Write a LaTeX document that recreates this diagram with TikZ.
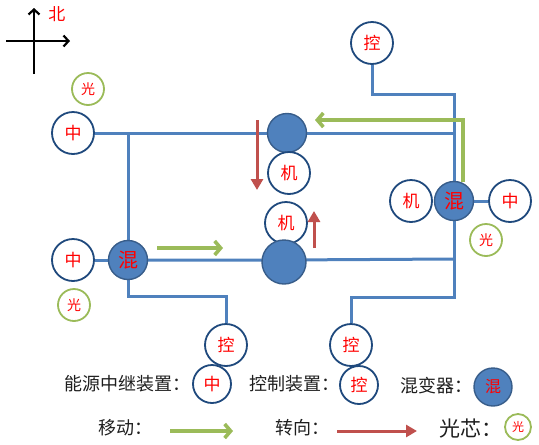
\documentclass[tikz,border=0pt]{standalone}
\usepackage{fontspec}
\newfontfamily\cjk{Noto Sans CJK SC}
\usetikzlibrary{arrows.meta,backgrounds}
\definecolor{lineblue}{RGB}{79,129,189}
\definecolor{ringblue}{RGB}{31,73,125}
\definecolor{mixedge}{RGB}{56,93,138}
\definecolor{cgreen}{RGB}{155,187,89}
\definecolor{cred}{RGB}{192,80,77}
\definecolor{tred}{RGB}{255,0,0}
\definecolor{tgray}{RGB}{30,30,30}
\tikzset{
  dev/.style={circle, draw=ringblue, line width=1.8pt, fill=white, minimum size=42pt, inner sep=0pt, text=tred, font=\cjk\fontsize{17}{17}\selectfont},
  mixer/.style={circle, draw=mixedge, line width=1.4pt, fill=lineblue, minimum size=39pt, inner sep=0pt, text=tred, font=\cjk\fontsize{20}{20}\selectfont},
  core/.style={circle, draw=cgreen, line width=1.8pt, fill=white, minimum size=32pt, inner sep=0pt, text=tred, font=\cjk\fontsize{14}{14}\selectfont},
  wire/.style={draw=lineblue, line width=3pt},
  garrow/.style={draw=cgreen, line width=3.6pt, -{Straight Barb[length=6pt,width=14pt]}},
  rarrow/.style={draw=cred, line width=3pt, -{Triangle[length=11pt,width=12pt]}},
  karrow/.style={draw=black, line width=2.2pt, -{Straight Barb[length=5pt,width=11pt]}},
  legend/.style={text=tgray, font=\cjk\fontsize{18}{18}\selectfont, inner sep=0pt, anchor=east}
}
\begin{document}
\begin{tikzpicture}[x=1pt,y=-1pt]
\useasboundingbox (0,0) rectangle (539,445);

% compass
\coordinate (cN0) at (34,74);
\coordinate (cN1) at (34,8);
\coordinate (cE0) at (6,41);
\coordinate (cE1) at (70,41);
\draw[karrow] (cN0) -- (cN1);
\draw[karrow] (cE0) -- (cE1);
\node[text=tred, font=\cjk\fontsize{17}{17}\selectfont] (north) at (57,14) {北};

% devices
\node[core] (gTL) at (88,89) {光};
\node[dev] (zTL) at (73,133) {中};
\node[mixer, minimum size=39pt] (hubTop) at (287,133) {};
\node[dev] (m1) at (289,173) {机};
\node[dev] (m2) at (286,223) {机};
\node[mixer, minimum size=44pt] (hubBot) at (284,262) {};
\node[dev] (zL) at (73,260) {中};
\node[mixer] (xL) at (128,260) {混};
\node[core] (gL) at (74,305) {光};
\node[dev] (kTop) at (372,43) {控};
\node[mixer] (xR) at (454,201) {混};
\node[dev] (mR) at (411,201) {机};
\node[dev] (zR) at (510,201) {中};
\node[core] (gR) at (486,240) {光};
\node[dev] (kL) at (226,345) {控};
\node[dev] (kR) at (351,345) {控};

\coordinate (bendA) at (454,94);
\coordinate (midEnd) at (454,259);

\begin{scope}[on background layer]
\draw[wire] (zTL) -- (zTL -| xR);
\draw[wire] (zTL -| xL) -- (xL);
\draw[wire] (kTop) |- (bendA) -- (xR);
\draw[wire] (zL) -- (xL);
\draw[wire] (xL) -- (xL -| hubBot) -- (midEnd);
\draw[wire] (xR) -- (zR);
\draw[wire] (xR) -- ++(0,96) -| (kR);
\draw[wire] (xL) -- ++(0,36) -| (kL);
\end{scope}

% motion arrows
\coordinate (ga1) at (463,182);
\coordinate (ga2) at (315,120);
\draw[garrow] (ga1) |- (ga2);
\coordinate (gb1) at (157,248);
\coordinate (gb2) at (223,248);
\draw[garrow] (gb1) -- (gb2);
\coordinate (ra1) at (257,120);
\coordinate (ra2) at (257,190);
\draw[rarrow] (ra1) -- (ra2);
\coordinate (rb1) at (314,248);
\coordinate (rb2) at (314,211);
\draw[rarrow] (rb1) -- (rb2);

% legend
\node[legend] (l1) at (191,384) {能源中继装置：};
\node[dev, minimum size=38pt] (lz) at (212,384) {中};
\node[legend] (l2) at (340,384) {控制装置：};
\node[dev, minimum size=38pt] (lk) at (359,385) {控};
\node[legend] (l3) at (473,386) {混变器：};
\node[mixer, minimum size=38pt, font=\cjk\fontsize{16}{16}\selectfont] (lx) at (493,387) {混};
\node[legend] (l4) at (153,428) {移动：};
\coordinate (lg1) at (170,431);
\coordinate (lg2) at (233,431);
\draw[garrow] (lg1) -- (lg2);
\node[legend] (l5) at (330,428) {转向：};
\coordinate (lr1) at (337,431);
\coordinate (lr2) at (417,431);
\draw[rarrow] (lr1) -- (lr2);
\node[legend, font=\cjk\fontsize{21}{21}\selectfont] (l6) at (503,429) {光芯：};
\node[core, minimum size=26pt, font=\cjk\fontsize{12}{12}\selectfont] (lg) at (518,427) {光};
\end{tikzpicture}
\end{document}
